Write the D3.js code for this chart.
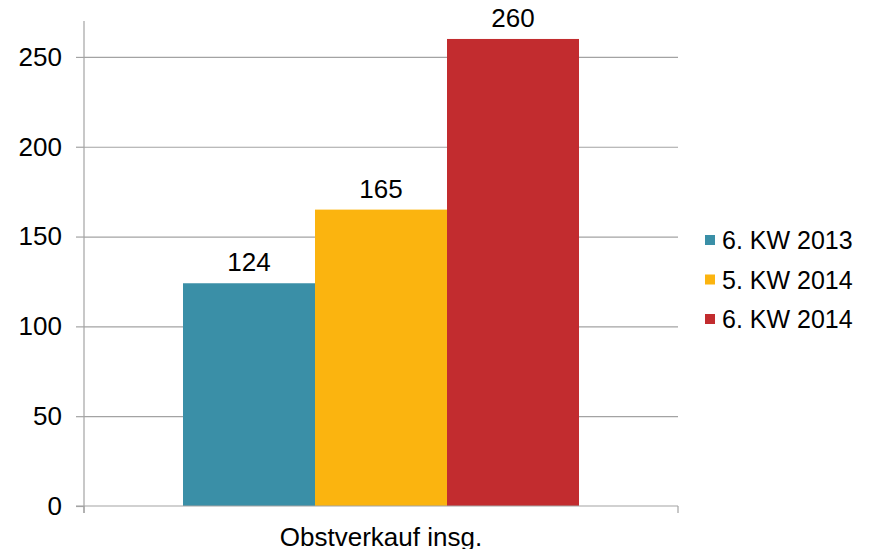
<!DOCTYPE html>
<html>
<head>
<meta charset="utf-8">
<script src="https://cdn.jsdelivr.net/npm/d3@7/dist/d3.min.js"></script>
<style>
  html, body { margin: 0; padding: 0; background: #fff; }
  svg { display: block; }
  text { font-family: "Liberation Sans", Arial, sans-serif; fill: #000; }
</style>
</head>
<body>
<svg id="chart" width="876" height="549"></svg>
<script>
// Fruit sales, calendar weeks compared
const categories = ["Obstverkauf insg."];
const seriesNames = ["6. KW 2013", "5. KW 2014", "6. KW 2014"];
const seriesValues = [124, 165, 260];
const seriesColors = ["#3a8fa7", "#fbb40f", "#c22c2f"];
const yTicks = [0, 50, 100, 150, 200, 250];

const svg = d3.select("#chart");
const plot = { left: 84, right: 678, top: 21, bottom: 506 };

const y = d3.scaleLinear().domain([0, 270]).range([plot.bottom, plot.top]);
const x0 = d3.scaleBand().domain(categories).range([plot.left, plot.right])
  .paddingInner(0).paddingOuter(0.25);
const x1 = d3.scaleBand().domain(seriesNames).range([0, x0.bandwidth()]).padding(0);
const color = d3.scaleOrdinal().domain(seriesNames).range(seriesColors);

// Horizontal gridlines with left tick stubs
const yAxis = d3.axisLeft(y).tickValues(yTicks).tickSize(8).tickPadding(14).tickFormat(d3.format("d"));
const yg = svg.append("g").attr("transform", `translate(${plot.left},0)`).call(yAxis);
yg.select(".domain").remove();
yg.selectAll(".tick line").attr("stroke", "#a3a3a3").attr("stroke-width", 1.2);
yg.selectAll(".tick").filter(d => d !== 0).append("line")
  .attr("x1", 0).attr("x2", plot.right - plot.left)
  .attr("stroke", "#a3a3a3").attr("stroke-width", 1.2);
yg.selectAll(".tick text").attr("font-size", 26).attr("fill", "#000")
  .style("font-family", "'Liberation Sans', Arial, sans-serif");

// Bars
const groups = svg.append("g").selectAll("g").data(categories).join("g")
  .attr("transform", d => `translate(${x0(d)},0)`);
groups.selectAll("rect")
  .data(() => seriesNames.map((s, i) => ({ s, v: seriesValues[i] })))
  .join("rect")
  .attr("x", d => x1(d.s))
  .attr("width", x1.bandwidth())
  .attr("y", d => y(d.v))
  .attr("height", d => y(0) - y(d.v))
  .attr("fill", d => color(d.s));

// Value labels
groups.selectAll("text.val")
  .data(() => seriesNames.map((s, i) => ({ s, v: seriesValues[i] })))
  .join("text")
  .attr("class", "val")
  .attr("x", d => x1(d.s) + x1.bandwidth() / 2)
  .attr("y", d => y(d.v) - 12)
  .attr("text-anchor", "middle")
  .attr("font-size", 26)
  .text(d => d.v);

// Vertical axis line
svg.append("line")
  .attr("x1", plot.left).attr("x2", plot.left)
  .attr("y1", y.range()[1]).attr("y2", y(0) + 7)
  .attr("stroke", "#a3a3a3").attr("stroke-width", 1.2);

// Category axis
const xAxis = d3.axisBottom(x0).tickSize(0).tickPadding(22).tickSizeOuter(0);
const xg = svg.append("g").attr("transform", `translate(0,${y(0)})`).call(xAxis);
xg.select(".domain").remove();
xg.append("line").attr("x1", plot.left - 8).attr("x2", plot.right)
  .attr("stroke", "#a3a3a3").attr("stroke-width", 1.2);
xg.selectAll(".bound").data(x0.range()).join("line").attr("class", "bound")
  .attr("x1", d => d).attr("x2", d => d).attr("y1", 0).attr("y2", 7)
  .attr("stroke", "#a3a3a3").attr("stroke-width", 1.2);
xg.selectAll(".tick text").attr("font-size", 26).attr("fill", "#000")
  .attr("dy", "0.71em")
  .style("font-family", "'Liberation Sans', Arial, sans-serif");

// Legend
const legend = svg.append("g").attr("transform", "translate(705,235)");
const item = legend.selectAll("g").data(seriesNames).join("g")
  .attr("transform", (d, i) => `translate(0,${i * 39.5})`);
item.append("rect").attr("width", 10).attr("height", 10).attr("fill", d => color(d));
item.append("text").attr("x", 17).attr("y", 14).attr("font-size", 25).text(d => d);
</script>
</body>
</html>
